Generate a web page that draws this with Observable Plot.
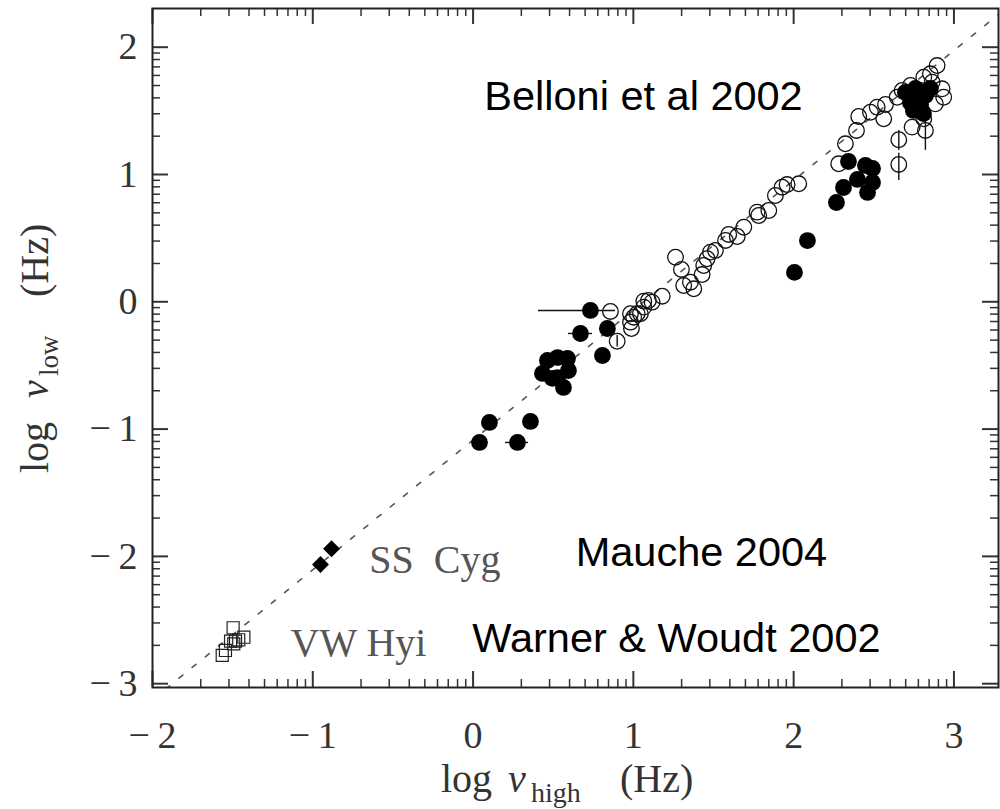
<!DOCTYPE html>
<html>
<head>
<meta charset="utf-8">
<script src="https://cdn.jsdelivr.net/npm/d3@7"></script>
<script src="https://cdn.jsdelivr.net/npm/@observablehq/plot@0.6"></script>
<style>
  html, body { margin: 0; padding: 0; background: #fff; }
  #chart svg { display: block; }
</style>
</head>
<body>
<div id="chart"></div>
<script>
// ---- Axis ticks ----
const xMajor = [-2, -1, 0, 1, 2, 3];
const yMajor = [-3, -2, -1, 0, 1, 2];
const xDomain = [-2, 3.278];
const yDomain = [-3.03, 2.304];

// ---- Belloni et al 2002: open circles (log nu_high, log nu_low) ----
const openX = [0.857, 0.899, 0.988, 0.982, 0.982, 1.024, 1.065, 1.065, 1.117, 1.180,
  1.002, 1.044, 1.094,
  1.263, 1.300, 1.314, 1.377, 1.356, 1.429, 1.439, 1.460, 1.481, 1.512,
  1.575, 1.595, 1.648, 1.689, 1.772, 1.782, 1.845, 1.886, 1.928, 1.959, 2.032,
  2.281, 2.323, 2.392, 2.406, 2.479, 2.521, 2.573, 2.562, 2.646, 2.677, 2.729,
  2.812, 2.853, 2.895, 2.864, 2.926, 2.936, 2.884, 2.812, 2.739, 2.822, 2.656, 2.656, 2.791];
const openY = [-0.076, -0.310, -0.210, -0.160, -0.094, -0.094, -0.042, 0.005, -0.003, 0.044,
  -0.121, -0.094, 0.010,
  0.350, 0.254, 0.128, 0.102, 0.154, 0.214, 0.285, 0.338, 0.390, 0.403,
  0.482, 0.529, 0.513, 0.586, 0.704, 0.678, 0.717, 0.835, 0.900, 0.921, 0.927,
  1.084, 1.241, 1.346, 1.456, 1.489, 1.529, 1.550, 1.438, 1.607, 1.660, 1.699,
  1.764, 1.791, 1.856, 1.725, 1.673, 1.607, 1.555, 1.438, 1.372, 1.346, 1.273, 1.079, 1.660];

// ---- filled circles ----
const fillX = [0.040, 0.102, 0.277, 0.358, 0.433, 0.464, 0.527, 0.589, 0.595, 0.564,
  0.495, 0.527, 0.670, 0.732, 0.838, 0.807,
  2.005, 2.086, 2.267, 2.311, 2.342, 2.398, 2.448, 2.492, 2.492, 2.461,
  2.697, 2.760, 2.822, 2.728, 2.791, 2.810, 2.747, 2.853];
const fillY = [-1.105, -0.948, -1.105, -0.940, -0.563, -0.461, -0.438, -0.445, -0.540, -0.673,
  -0.602, -0.595, -0.249, -0.068, -0.210, -0.422,
  0.231, 0.481, 0.780, 0.898, 1.102, 0.961, 1.071, 1.047, 0.937, 0.859,
  1.644, 1.676, 1.621, 1.566, 1.550, 1.479, 1.503, 1.676];

// ---- horizontal error bars ----
const hErrY = [-0.068, -0.249, -1.105];
const hErrX1 = [0.408, 0.595, 0.202];
const hErrX2 = [0.889, 0.745, 0.346];
// ---- vertical error bars ----
const vErrX = [2.656, 2.656, 2.822, 0.899];
const vErrY1 = [1.188, 0.953, 1.190, -0.355];
const vErrY2 = [1.345, 1.166, 1.440, -0.265];

// ---- SS Cyg (Mauche 2004): filled diamonds ----
const cygX = [-0.952, -0.883];
const cygY = [-2.064, -1.940];

// ---- VW Hyi (Warner & Woudt 2002): open squares ----
const hyiX = [-1.497, -1.565, -1.545, -1.513, -1.482, -1.462, -1.430, -1.493];
const hyiY = [-2.561, -2.778, -2.739, -2.666, -2.666, -2.655, -2.635, -2.687];

// ---- dashed relation line ----
const fitX = [-2.0, 3.3];
const fitY = [-3.125, 2.28];

// ---- labels ----
const srcLabels = ["Belloni et al 2002", "Mauche 2004", "Warner & Woudt 2002"];
const srcX = [0.07, 0.64, -0.005];
const srcY = [1.613, -1.969, -2.650];
const objLabels = ["SS\u2002Cyg", "VW Hyi"];
const objX = [-0.648, -1.139];
const objY = [-2.026, -2.680];

// ---- helpers ----
const minorOf = (majors, dom) => majors
  .flatMap(u => [2, 3, 4, 5, 6, 7, 8, 9].map(k => u + Math.log10(k)))
  .filter(v => v > dom[0] + 0.004 && v < dom[1] - 0.004);
const xMinor = minorOf(xMajor, xDomain);
const yMinor = minorOf(yMajor, yDomain);
const fmt = d => d < 0 ? "\u2212\u2009" + Math.abs(d) : String(d);

const W = 1000, H = 809;
const mL = 152, mR = 2, mT = 8, mB = 122;
const fw = W - mL - mR, fh = H - mT - mB;
const majLen = 16, minLen = 8;
const tickColor = "#333";
const serif = "'Liberation Serif', 'Times New Roman', serif";

const chart = Plot.plot({
  width: W, height: H,
  marginLeft: mL, marginRight: mR, marginTop: mT, marginBottom: mB,
  style: { fontFamily: serif, fontSize: "38px", color: "#333", background: "#fff" },
  x: { domain: xDomain, label: null },
  y: { domain: yDomain, label: null },
  marks: [
    Plot.line(fitX, { x: d => d, y: (d, i) => fitY[i], stroke: "#555", strokeWidth: 1.6, strokeDasharray: "5,12", clip: true }),
    // inward ticks on all four sides
    Plot.ruleX(xMajor, { x: d => d, insetTop: fh - majLen, stroke: tickColor, strokeWidth: 2 }),
    Plot.ruleX(xMinor, { x: d => d, insetTop: fh - minLen, stroke: tickColor, strokeWidth: 1.5 }),
    Plot.ruleX(xMajor, { x: d => d, insetBottom: fh - majLen, stroke: tickColor, strokeWidth: 2 }),
    Plot.ruleX(xMinor, { x: d => d, insetBottom: fh - minLen, stroke: tickColor, strokeWidth: 1.5 }),
    Plot.ruleY(yMajor, { y: d => d, insetRight: fw - majLen, stroke: tickColor, strokeWidth: 2 }),
    Plot.ruleY(yMinor, { y: d => d, insetRight: fw - minLen, stroke: tickColor, strokeWidth: 1.5 }),
    Plot.ruleY(yMajor, { y: d => d, insetLeft: fw - majLen, stroke: tickColor, strokeWidth: 2 }),
    Plot.ruleY(yMinor, { y: d => d, insetLeft: fw - minLen, stroke: tickColor, strokeWidth: 1.5 }),
    Plot.axisX({ ticks: xMajor, tickSize: 0, tickPadding: 34, tickFormat: fmt, label: null, fill: "#333" }),
    Plot.axisY({ ticks: yMajor, tickSize: 0, tickPadding: 15, tickFormat: fmt, label: null, fill: "#333" }),
    // error bars
    Plot.ruleY(hErrY, { y: d => d, x1: (d, i) => hErrX1[i], x2: (d, i) => hErrX2[i], stroke: "#111", strokeWidth: 1.4 }),
    Plot.ruleX(vErrX, { x: d => d, y1: (d, i) => vErrY1[i], y2: (d, i) => vErrY2[i], stroke: "#111", strokeWidth: 1.4 }),
    // data
    Plot.dot(openX, { x: d => d, y: (d, i) => openY[i], r: 7.8, fill: "none", stroke: "#111", strokeWidth: 1.3 }),
    Plot.dot(fillX, { x: d => d, y: (d, i) => fillY[i], r: 8.4, fill: "#000", stroke: "none" }),
    Plot.dot(cygX, { x: d => d, y: (d, i) => cygY[i], symbol: "diamond2", r: 7.6, fill: "#000", stroke: "none" }),
    Plot.dot(hyiX, { x: d => d, y: (d, i) => hyiY[i], symbol: "square", r: 6.8, fill: "none", stroke: "#222", strokeWidth: 1.2 }),
    // labels
    Plot.text(srcLabels, { x: (d, i) => srcX[i], y: (d, i) => srcY[i], text: d => d, textAnchor: "start",
      fontFamily: "'Liberation Sans', Arial, sans-serif", fontSize: 41.5, fill: "#000" }),
    Plot.text(objLabels, { x: (d, i) => objX[i], y: (d, i) => objY[i], text: d => d, textAnchor: "start",
      fontFamily: serif, fontSize: 40, fill: "#555" }),
    Plot.frame({ stroke: "#222", strokeWidth: 2 })
  ]
});
document.getElementById("chart").appendChild(chart);

// ---- axis titles with subscripts ----
const svg = d3.select(chart);
const xt = svg.append("text")
  .attr("font-family", serif).attr("font-size", 40).attr("fill", "#333")
  .attr("text-anchor", "start")
  .attr("x", 441).attr("y", 792);
xt.append("tspan").text("log");
xt.append("tspan").attr("x", 508).attr("font-style", "italic").text("\u03BD");
xt.append("tspan").attr("x", 531).attr("dy", 10).attr("font-size", 28).text("high");
xt.append("tspan").attr("x", 620).attr("dy", -10).text("(Hz)");

const yt = svg.append("text")
  .attr("font-family", serif).attr("font-size", 40).attr("fill", "#333")
  .attr("text-anchor", "start")
  .attr("transform", "translate(48,473) rotate(-90)");
yt.append("tspan").attr("x", 0).text("log");
yt.append("tspan").attr("x", 75).attr("font-style", "italic").text("\u03BD");
yt.append("tspan").attr("x", 97).attr("dy", 10).attr("font-size", 27).text("low");
yt.append("tspan").attr("x", 176).attr("dy", -10).text("(Hz)");
</script>
</body>
</html>
